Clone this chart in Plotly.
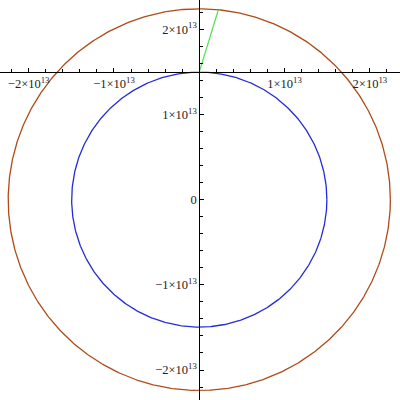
import numpy as np
import plotly.graph_objects as go

# Data (cm)
orbit_names = ["inner", "outer"]
orbit_radii = [1.496e13, 2.24e13]
orbit_colors = ["rgb(35,45,215)", "rgb(175,75,25)"]
transfer_x = [0.0, 0.223e13]
transfer_y = [1.5e13, 2.226e13]

x_tickvals = [-2e13, -1e13, 1e13, 2e13]
x_ticktext = ["−2×10<sup>13</sup>", "−1×10<sup>13</sup>", "1×10<sup>13</sup>", "2×10<sup>13</sup>"]
y_tickvals = [-2e13, -1e13, 0, 1e13, 2e13]
y_ticktext = ["−2×10<sup>13</sup>", "−1×10<sup>13</sup>", "0", "1×10<sup>13</sup>", "2×10<sup>13</sup>"]

xr = [-2.336e13, 2.353e13]
yr = [-2.352e13, 2.343e13]
axes_origin = (0.0, 1.5e13)

theta = np.linspace(0, 2 * np.pi, 721)
fig = go.Figure()
for name, r, c in zip(orbit_names, orbit_radii, orbit_colors):
    fig.add_trace(go.Scatter(x=r * np.cos(theta), y=r * np.sin(theta), mode="lines",
                             line=dict(color=c, width=1.3), name=name, hoverinfo="skip"))
fig.add_trace(go.Scatter(x=transfer_x, y=transfer_y, mode="lines",
                         line=dict(color="rgb(80,225,80)", width=1.2), name="transfer"))

font = dict(family="Liberation Serif", size=12.5, color="#222")
xpos = (axes_origin[1] - yr[0]) / (yr[1] - yr[0])
ypos = (axes_origin[0] - xr[0]) / (xr[1] - xr[0])
minor = dict(tickmode="linear", tick0=0, dtick=2e12, ticks="inside",
             ticklen=2.5, tickcolor="black", showgrid=False)
fig.update_layout(
    width=400, height=400, margin=dict(l=0, r=0, t=0, b=0),
    paper_bgcolor="white", plot_bgcolor="white", showlegend=False,
    xaxis=dict(range=xr, showgrid=False, zeroline=False, showline=True, linecolor="black",
               linewidth=1, anchor="free", position=xpos, side="bottom",
               tickmode="array", tickvals=x_tickvals, ticktext=x_ticktext,
               ticks="inside", ticklen=4, tickcolor="black", tickfont=font,
               minor=minor, automargin=False, fixedrange=True),
    yaxis=dict(range=yr, showgrid=False, zeroline=False, showline=True, linecolor="black",
               linewidth=1, anchor="free", position=ypos, side="left",
               tickmode="array", tickvals=y_tickvals, ticktext=y_ticktext,
               ticks="inside", ticklen=4, tickcolor="black", tickfont=font,
               minor=minor, automargin=False, fixedrange=True),
)
fig.write_html("out.html", config={"displayModeBar": False},
               post_script="document.body.style.margin='0';document.body.style.padding='0';")
